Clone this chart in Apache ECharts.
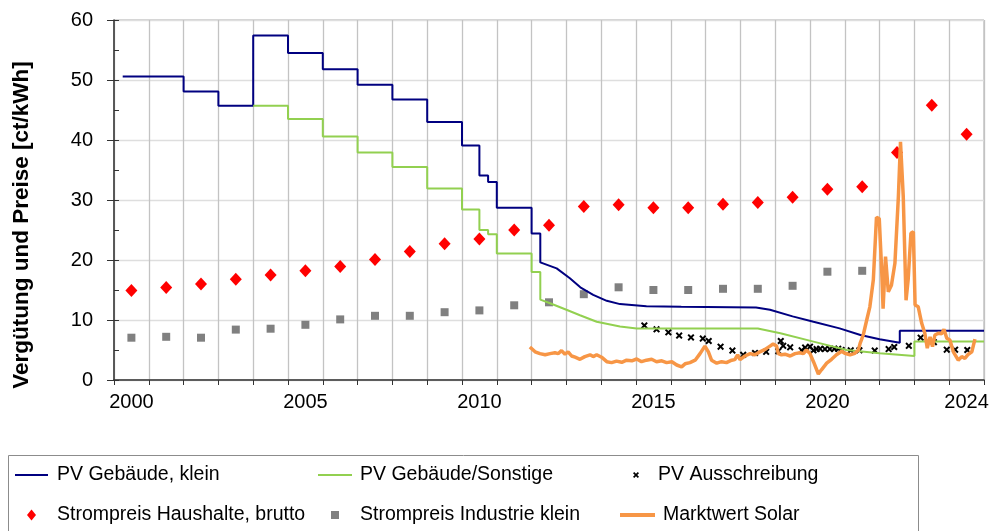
<!DOCTYPE html>
<html lang="de">
<head>
<meta charset="UTF-8">
<title>Vergütung und Preise</title>
<script src="https://cdn.jsdelivr.net/npm/echarts@6/dist/echarts.min.js"></script>
<style>
html, body {margin: 0; padding: 0; background: #fff;}
#main {width: 993px; height: 531px;}
</style>
</head>
<body>
<div id="main"></div>
<script>
// tick labels on the year axis (labels sit in the middle of the year)
var labelYears = [2000, 2005, 2010, 2015, 2020, 2024];

// feed-in tariffs, vertices of the step lines [year, ct/kWh]
var pvKlein = [[2000.25,50.6],[2002,50.6],[2002,48.1],[2003,48.1],[2003,45.7],[2004,45.7],[2004,57.4],
  [2005,57.4],[2005,54.5],[2006,54.5],[2006,51.8],[2007,51.8],[2007,49.2],[2008,49.2],[2008,46.75],
  [2009,46.75],[2009,43.0],[2010,43.0],[2010,39.1],[2010.5,39.1],[2010.5,34.1],[2010.75,34.1],
  [2010.75,33.0],[2011,33.0],[2011,28.7],[2012,28.7],[2012,24.4],[2012.25,24.4],[2012.25,19.6],
  [2012.72,18.6],[2013.1,16.95],[2013.4,15.45],[2013.77,14.2],[2014.16,13.2],[2014.54,12.65],
  [2015.3,12.3],[2016.3,12.2],[2018.45,12.1],[2018.85,11.7],[2019.5,10.6],[2020.1,9.7],[2020.85,8.6],
  [2021.45,7.5],[2022.0,6.8],[2022.58,6.2],[2022.58,8.2],[2025,8.2]];

var pvSonstige = [[2004,45.7],[2005,45.7],[2005,43.5],[2006,43.5],[2006,40.6],[2007,40.6],[2007,37.9],
  [2008,37.9],[2008,35.5],[2009,35.5],[2009,31.9],[2010,31.9],[2010,28.4],[2010.5,28.4],[2010.5,25.0],
  [2010.75,25.0],[2010.75,24.3],[2011,24.3],[2011,21.1],[2012,21.1],[2012,18.0],[2012.25,18.0],
  [2012.25,13.4],[2012.53,12.8],[2013.0,11.7],[2013.39,10.8],[2013.87,9.7],[2014.54,8.9],[2015.02,8.6],
  [2018.5,8.6],[2019.15,7.8],[2020.1,6.4],[2021.05,5.0],[2022.0,4.45],[2023.0,4.0],[2023.0,6.4],[2025,6.4]];

// tender results [years after 2000, ct/kWh]
var pvAusschreibung = [[15.24,9.1],[15.59,8.45],[15.93,7.95],[16.24,7.4],[16.58,7.1],[16.92,6.9],[17.09,6.5],
  [17.43,5.55],[17.77,4.9],[18.08,4.2],[18.42,4.5],[18.74,4.7],[19.09,4.8],[19.16,6.5],[19.23,5.7],
  [19.43,5.45],[19.76,4.95],[19.86,5.4],[20.0,5.55],[20.1,4.95],[20.19,5.15],[20.29,5.2],[20.43,5.15],
  [20.57,5.15],[20.7,5.2],[20.81,5.2],[20.91,5.0],[21.17,4.95],[21.42,4.95],[21.86,4.9],[22.26,5.15],
  [22.42,5.5],[22.84,5.7],[23.18,7.05],[23.56,6.3],[23.93,5.05],[24.17,5.05],[24.52,5.0]];

// annual electricity prices, first year 2000
var priceStartYear = 2000;
var haushalte = [14.9,15.4,16.0,16.8,17.5,18.2,18.9,20.1,21.4,22.7,23.5,25.0,25.8,28.9,29.2,28.7,28.7,
  29.3,29.6,30.45,31.8,32.2,37.9,45.8,40.95];
var industrie = [7.05,7.2,7.05,8.4,8.55,9.2,10.1,10.7,10.7,11.3,11.6,12.45,12.95,14.3,15.45,15.0,15.0,
  15.2,15.2,15.7,18.05,18.2];

// market value solar [year, ct/kWh]
var marktwert = [[2011.95,5.5],[2012.0,5.2],[2012.1,4.7],[2012.24,4.4],[2012.39,4.2],[2012.53,4.4],[2012.67,4.55],
  [2012.77,4.4],[2012.86,4.9],[2012.96,4.3],[2013.05,4.7],[2013.15,4.0],[2013.25,3.8],[2013.39,3.45],
  [2013.53,3.9],[2013.68,4.2],[2013.77,3.9],[2013.87,4.2],[2014.01,3.8],[2014.16,3.05],[2014.3,2.9],
  [2014.44,3.15],[2014.59,2.95],[2014.73,3.3],[2014.88,3.2],[2015.02,3.5],[2015.16,3.05],[2015.3,3.3],
  [2015.45,3.45],[2015.59,3.05],[2015.74,3.2],[2015.88,2.9],[2016.03,3.05],[2016.17,2.5],[2016.31,2.2],
  [2016.41,2.7],[2016.55,2.9],[2016.7,3.3],[2016.84,4.4],[2016.98,5.65],[2017.08,4.7],[2017.17,3.3],
  [2017.32,2.8],[2017.46,3.05],[2017.6,2.9],[2017.75,3.3],[2017.84,3.4],[2017.92,4.2],[2017.99,3.4],
  [2018.13,4.0],[2018.28,4.4],[2018.42,4.2],[2018.56,4.7],[2018.71,5.1],[2018.85,5.65],[2018.94,6.0],
  [2019.04,5.65],[2019.09,4.4],[2019.18,4.2],[2019.28,4.3],[2019.43,4.0],[2019.57,4.4],[2019.71,4.55],
  [2019.81,4.4],[2019.9,5.0],[2020.0,4.4],[2020.1,3.05],[2020.24,1.0],[2020.33,1.7],[2020.48,2.8],
  [2020.62,3.45],[2020.76,4.2],[2020.91,4.8],[2021.0,4.45],[2021.15,4.2],[2021.29,4.45],[2021.39,5.0],
  [2021.44,6.1],[2021.53,7.5],[2021.63,10.0],[2021.72,12.2],[2021.82,16.7],[2021.91,27.1],[2021.99,26.9],
  [2022.06,18.3],[2022.1,11.9],[2022.17,20.55],[2022.25,14.7],[2022.34,15.8],[2022.44,19.45],[2022.54,30.6],
  [2022.6,39.7],[2022.68,30.55],[2022.76,13.3],[2022.82,16.7],[2022.9,24.45],[2022.97,24.7],[2023.02,12.5],
  [2023.11,12.2],[2023.21,9.45],[2023.3,7.8],[2023.37,5.3],[2023.45,7.2],[2023.52,5.55],[2023.59,7.5],
  [2023.69,7.8],[2023.78,7.7],[2023.85,8.45],[2023.93,6.95],[2024.02,6.65],[2024.12,4.7],[2024.26,3.3],
  [2024.36,3.9],[2024.45,3.6],[2024.55,4.3],[2024.65,4.7],[2024.74,6.8]];

var FONT = 'Liberation Sans, Arial, sans-serif';
var crossSymbol = 'path://M0,2 L2,0 L5,3 L8,0 L10,2 L7,5 L10,8 L8,10 L5,7 L2,10 L0,8 L3,5 Z';

// category list for the label axis, one band per year
var yearCats = [];
for (var y = 2000; y < 2025; y++) {
  yearCats.push(labelYears.indexOf(y) >= 0 ? String(y) : '');
}

function annual(values) {
  return values.map(function (v, i) { return [priceStartYear + i + 0.5, v]; });
}

var chart = echarts.init(document.getElementById('main'));

// one legend per entry so the 3x2 layout lines up like the original
// (the item box is as high as its text, so top = row centre - half the text height)
function legendItem(name, icon, left, centerY, w, h, pad) {
  return {
    data: [{name: name, icon: icon}], left: left, top: centerY - 10, padding: 0,
    itemWidth: w, itemHeight: h, selectedMode: false,
    textStyle: {fontFamily: FONT, fontSize: 19.5, color: '#000', padding: [0, 0, 0, pad]}
  };
}

chart.setOption({
  animation: false,
  grid: {left: 114, top: 20, right: 9, bottom: 151, show: true, borderColor: '#a6a6a6', borderWidth: 1},
  xAxis: [{
    type: 'value', min: 2000, max: 2025, interval: 1,
    axisLine: {lineStyle: {color: '#333', width: 1.5}},
    axisTick: {show: true, length: 5, lineStyle: {color: '#333'}},
    axisLabel: {show: false},
    splitLine: {show: true, lineStyle: {color: '#c3c3c3', width: 1.3}}
  }, {
    type: 'category', data: yearCats, position: 'bottom', boundaryGap: true,
    axisLine: {show: false}, axisTick: {show: false}, splitLine: {show: false},
    axisLabel: {interval: 0, fontFamily: FONT, fontSize: 20, color: '#000', margin: 12}
  }],
  yAxis: [{
    type: 'value', min: 0, max: 60, interval: 10,
    axisLine: {show: true, lineStyle: {color: '#333', width: 1.5}},
    axisTick: {show: true, length: 7, lineStyle: {color: '#333'}},
    axisLabel: {fontFamily: FONT, fontSize: 20, color: '#000', margin: 21},
    splitLine: {show: true, lineStyle: {color: '#dedede', width: 1.3}}
  }, {
    type: 'value', min: 0, max: 60, interval: 5, position: 'left',
    axisLine: {show: false},
    axisTick: {show: true, inside: true, length: 5, lineStyle: {color: '#333'}},
    axisLabel: {show: false}, splitLine: {show: false}
  }],
  legend: [
    legendItem('PV Gebäude, klein', 'rect', 15, 475, 33, 2, 4),
    legendItem('PV Gebäude/Sonstige', 'rect', 318, 475, 34, 2, 3),
    legendItem('PV Ausschreibung', crossSymbol, 633, 475, 6, 6, 14),
    legendItem('Strompreis Haushalte, brutto', 'diamond', 27, 515, 9, 11, 16),
    legendItem('Strompreis Industrie klein', 'rect', 331, 515, 8, 8, 16),
    legendItem('Marktwert Solar', 'rect', 620, 515, 35, 4, 3)
  ],
  graphic: [{
    type: 'text', x: 22, y: 225, rotation: Math.PI / 2,
    style: {text: 'Vergütung und Preise [ct/kWh]', font: 'bold 22.5px ' + FONT, fill: '#000',
      align: 'center', verticalAlign: 'middle'}
  }, {
    type: 'rect', shape: {x: 8.5, y: 455.5, width: 910, height: 100}, silent: true,
    style: {fill: 'none', stroke: '#8c8c8c', lineWidth: 1}
  }],
  series: [{
    name: 'PV Gebäude, klein', type: 'line', data: pvKlein, symbol: 'none',
    itemStyle: {color: '#000080'}, lineStyle: {color: '#000080', width: 2}
  }, {
    name: 'PV Gebäude/Sonstige', type: 'line', data: pvSonstige, symbol: 'none',
    itemStyle: {color: '#92d050'}, lineStyle: {color: '#92d050', width: 2}
  }, {
    name: 'Strompreis Haushalte, brutto', type: 'scatter', data: annual(haushalte),
    symbol: 'diamond', symbolSize: [12, 13], itemStyle: {color: '#ff0000', opacity: 1}
  }, {
    name: 'Strompreis Industrie klein', type: 'scatter', data: annual(industrie),
    symbol: 'rect', symbolSize: 8, itemStyle: {color: '#808080', opacity: 1}
  }, {
    name: 'Marktwert Solar', type: 'line', data: marktwert, symbol: 'none',
    itemStyle: {color: '#f79646'}, lineStyle: {color: '#f79646', width: 3.5}
  }, {
    name: 'PV Ausschreibung', type: 'scatter',
    data: pvAusschreibung.map(function (p) { return [2000 + p[0], p[1]]; }),
    symbol: crossSymbol, symbolSize: 7, itemStyle: {color: '#000', opacity: 1}
  }]
});
</script>
</body>
</html>
